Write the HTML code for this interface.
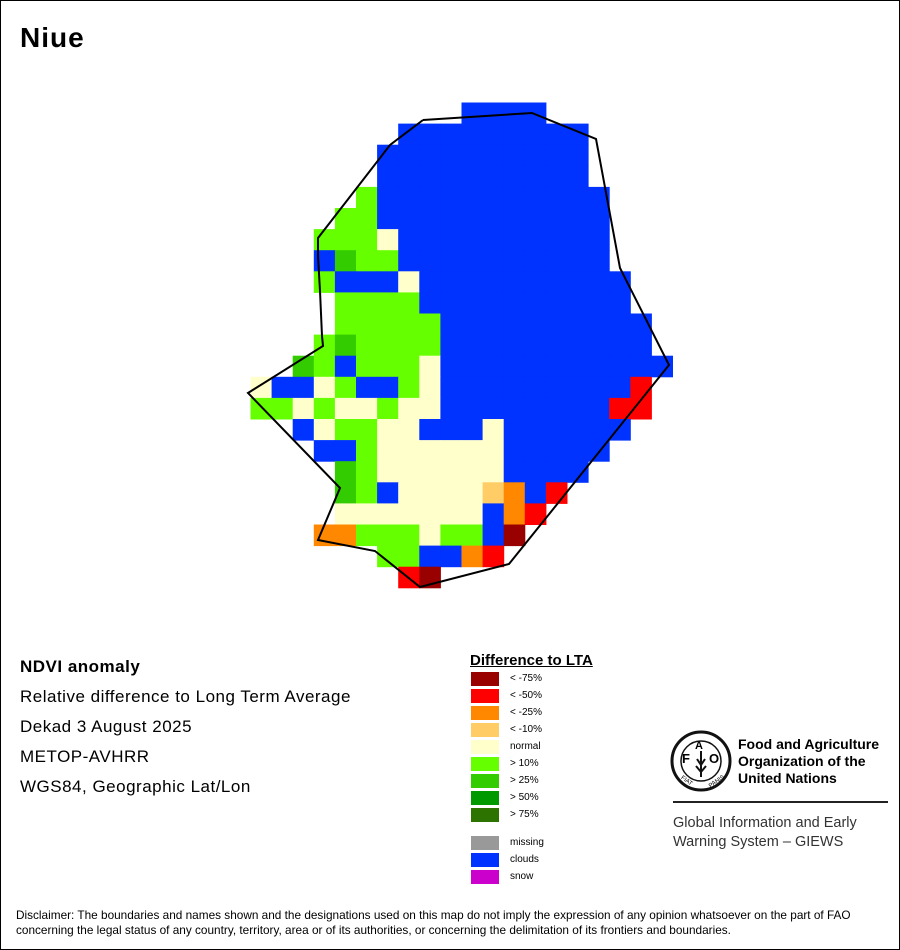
<!DOCTYPE html>
<html><head><meta charset="utf-8"><style>
body{margin:0;background:#fff}
#p{position:relative;width:898px;height:948px;border:1px solid #000;overflow:hidden;font-family:"Liberation Sans",sans-serif;background:#fff}
.t{position:absolute;white-space:nowrap;color:#000}
.l{font-size:17px;letter-spacing:0.5px}
</style></head><body><div id="p">
<div class="t" style="left:19px;top:21px;font-size:28px;font-weight:bold;letter-spacing:1px">Niue</div>
<svg id="m" width="898" height="948" style="position:absolute;left:0;top:0"></svg>
<div class="t l" style="left:19px;top:656px;font-weight:bold">NDVI anomaly</div>
<div class="t l" style="left:19px;top:686px">Relative difference to Long Term Average</div>
<div class="t l" style="left:19px;top:716px">Dekad 3 August 2025</div>
<div class="t l" style="left:19px;top:746px">METOP-AVHRR</div>
<div class="t l" style="left:19px;top:776px">WGS84, Geographic Lat/Lon</div>
<div class="t" style="left:469px;top:651px;font-size:15px;font-weight:bold;text-decoration:underline">Difference to LTA</div>
<div id="lg"></div>
<div class="t" style="left:737px;top:735px;font-size:14px;font-weight:bold;line-height:17px">Food and Agriculture<br>Organization of the<br>United Nations</div>
<div style="position:absolute;left:672px;top:800px;width:215px;height:2px;background:#222"></div>
<div class="t" style="left:672px;top:813px;font-size:14.5px;line-height:19px;color:#333">Global Information and Early<br>Warning System – GIEWS</div>
<svg width="64" height="64" style="position:absolute;left:668px;top:728px" viewBox="0 0 64 64">
<circle cx="32" cy="32" r="29" fill="none" stroke="#111" stroke-width="3"/>
<circle cx="32" cy="32" r="20" fill="none" stroke="#111" stroke-width="1.5"/>
<text x="13" y="34" font-size="13" font-weight="bold" font-family="Liberation Sans">F</text>
<text x="26" y="20" font-size="11" font-weight="bold" font-family="Liberation Sans">A</text>
<text x="40" y="34" font-size="13" font-weight="bold" font-family="Liberation Sans">O</text>
<path d="M32 22 L32 48 M28 30 L32 36 L36 30 M27 37 L32 43 L37 37" stroke="#111" stroke-width="2" fill="none"/>
<text x="12" y="52" font-size="6" font-family="Liberation Sans" transform="rotate(35 16 50)">FIAT</text>
<text x="38" y="56" font-size="6" font-family="Liberation Sans" transform="rotate(-35 44 52)">PANIS</text>
</svg>
<div class="t" style="left:15px;top:907px;font-size:11.8px;line-height:15px">Disclaimer: The boundaries and names shown and the designations used on this map do not imply the expression of any opinion whatsoever on the part of FAO<br>concerning the legal status of any country, territory, area or of its authorities, or concerning the delimitation of its frontiers and boundaries.</div>
</div>
<script>
var rows=[
"..........BBBB......",
".......BBBBBBBBB....",
"......BBBBBBBBBB....",
"......BBBBBBBBBB....",
".....GBBBBBBBBBBB...",
"....GGBBBBBBBBBBB...",
"...GGGCBBBBBBBBBB...",
"...BDGGBBBBBBBBBB...",
"...GBBBCBBBBBBBBBB..",
"....GGGGBBBBBBBBBB..",
"....GGGGGBBBBBBBBBB.",
"...GDGGGGBBBBBBBBBB.",
"..DGBGGGCBBBBBBBBBBB",
"CBBCGBBGCBBBBBBBBBR.",
"GGCGCCGCCBBBBBBBBRR.",
"..BCGGCCBBBCBBBBBB..",
"...BBGCCCCCCBBBBB...",
"....DGCCCCCCBBBB....",
"....DGBCCCCLOBR.....",
"....CCCCCCCBOR......",
"...OOGGGCGGBX.......",
"......GGBBOR........",
".......RX..........."];
var col={B:"#0033ff",G:"#66ff00",D:"#33cc00",C:"#ffffcc",O:"#ff8800",L:"#ffcc66",R:"#ff0000",X:"#990000"};
var s="",cw=21.1,x0=249.5,y0=101.5;
rows.forEach(function(r,i){for(var j=0;j<r.length;j++){var c=r[j];if(col[c])s+='<rect x="'+(x0+j*cw).toFixed(1)+'" y="'+(y0+i*cw).toFixed(1)+'" width="21.6" height="21.6" fill="'+col[c]+'"/>';}});
s+='<polyline fill="none" stroke="#000" stroke-width="2" points="422,119 531,112 595,138 619,267 668,364 508,563 419,586 374,550 317,539 339,487 247,392 322,345 321,335 319,290 317,255 317,237 389,144 422,119"/>';
document.getElementById("m").innerHTML=s;
var lg=[["#990000","< -75%",671],["#ff0000","< -50%",688],["#ff8800","< -25%",705],["#ffcc66","< -10%",722],["#ffffcc","normal",739],["#66ff00","> 10%",756],["#33cc00","> 25%",773],["#009900","> 50%",790],["#2d7300","> 75%",807],["#999999","missing",835],["#0033ff","clouds",852],["#cc00cc","snow",869]];
var h="";lg.forEach(function(l){h+='<div style="position:absolute;left:470px;top:'+l[2]+'px;width:28px;height:14px;background:'+l[0]+'"></div><div class="t" style="left:509px;top:'+(l[2]+1)+'px;font-size:10px">'+l[1]+'</div>';});
document.getElementById("lg").innerHTML=h;
</script>
</body></html>
